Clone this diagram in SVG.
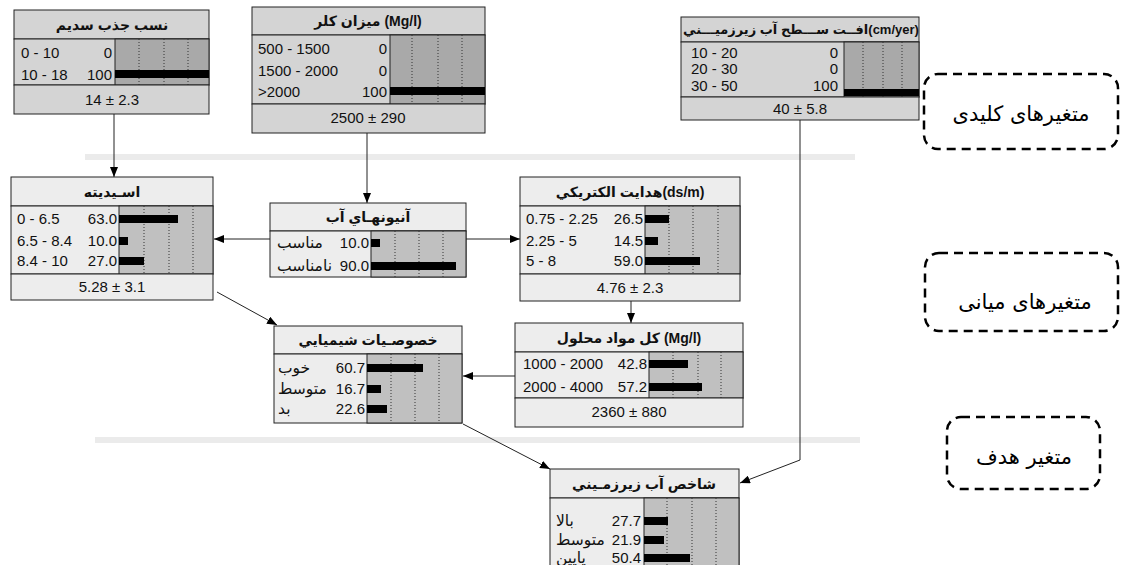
<svg xmlns="http://www.w3.org/2000/svg" width="1121" height="565" viewBox="0 0 1121 565">
<style>
.tk{fill:#d4d4d4;stroke:#222;stroke-width:1}
.tn{fill:#ededed;stroke:#222;stroke-width:1}
.bk{fill:#a9a9a9;stroke:#222;stroke-width:1}
.bn{fill:#c0c0c0;stroke:#222;stroke-width:1}
.dot{stroke:#333;stroke-width:1;stroke-dasharray:1 2}
.bar{fill:#000}
text{font-family:"Liberation Sans","DejaVu Sans",sans-serif;font-size:15px;fill:#111}
.ti{font-weight:bold;text-anchor:middle;font-size:14px}
.c{text-anchor:middle}
.e{text-anchor:end}
.ar{font-size:15.5px}
.lbl{font-family:"DejaVu Sans",sans-serif;font-size:21px;text-anchor:middle;fill:#000}
.db{fill:none;stroke:#000;stroke-width:2.5;stroke-dasharray:9 6}
.sep{stroke:#ebebeb;stroke-width:6}
.ln{stroke:#222;stroke-width:1;fill:none}
</style>
<defs>
<marker id="ah" viewBox="0 0 10 8" refX="10" refY="4" markerWidth="10" markerHeight="8" markerUnits="userSpaceOnUse" orient="auto">
<path d="M0,0 L10,4 L0,8 z" fill="#000"/>
</marker>
</defs>

<line class="sep" x1="85" y1="157" x2="855" y2="157"/>
<line class="sep" x1="95" y1="440" x2="860" y2="440"/>

<g id="connectors">
<line class="ln" x1="114" y1="114" x2="114" y2="177" marker-end="url(#ah)"/>
<line class="ln" x1="367" y1="133" x2="367" y2="203" marker-end="url(#ah)"/>
<line class="ln" x1="270" y1="239" x2="214" y2="239" marker-end="url(#ah)"/>
<line class="ln" x1="466" y1="239" x2="520" y2="239" marker-end="url(#ah)"/>
<line class="ln" x1="631" y1="301" x2="631" y2="323" marker-end="url(#ah)"/>
<line class="ln" x1="217" y1="292" x2="277" y2="325" marker-end="url(#ah)"/>
<line class="ln" x1="515" y1="376" x2="463" y2="376" marker-end="url(#ah)"/>
<line class="ln" x1="463" y1="424" x2="550" y2="469" marker-end="url(#ah)"/>
<polyline class="ln" points="800,120 800,460 740,483" marker-end="url(#ah)"/>
</g>

<g id="n-sodium">
<rect class="tk" x="14" y="10" width="195" height="29"/>
<rect class="tk" x="14" y="39" width="195" height="46"/>
<rect class="bk" x="115" y="39" width="94" height="46"/>
<line class="dot" x1="139" y1="39" x2="139" y2="85"/>
<line class="dot" x1="164" y1="39" x2="164" y2="85"/>
<line class="dot" x1="188" y1="39" x2="188" y2="85"/>
<rect class="bar" x="115" y="70" width="94" height="8"/>
<rect class="tk" x="14" y="85" width="195" height="29"/>
<text class="ti" x="112" y="30">نسب جذب سديم</text>
<text x="21" y="58">0 - 10</text><text class="e" x="112" y="58">0</text>
<text x="21" y="80">10 - 18</text><text class="e" x="112" y="80">100</text>
<text class="c" x="112" y="105">14 ± 2.3</text>
</g>

<g id="n-chloride">
<rect class="tk" x="252" y="7" width="233" height="28"/>
<rect class="tk" x="252" y="35" width="233" height="69"/>
<rect class="bk" x="390" y="35" width="95" height="69"/>
<line class="dot" x1="412" y1="35" x2="412" y2="104"/>
<line class="dot" x1="438" y1="35" x2="438" y2="104"/>
<line class="dot" x1="462" y1="35" x2="462" y2="104"/>
<rect class="bar" x="390" y="87" width="95" height="8"/>
<rect class="tk" x="252" y="104" width="233" height="29"/>
<text class="ti" x="368" y="26">ميزان كلر (Mg/l)</text>
<text x="258" y="54">500 - 1500</text><text class="e" x="387" y="54">0</text>
<text x="258" y="76">1500 - 2000</text><text class="e" x="387" y="76">0</text>
<text x="258" y="97">&gt;2000</text><text class="e" x="387" y="97">100</text>
<text class="c" x="368" y="123">2500 ± 290</text>
</g>

<g id="n-drop">
<rect class="tk" x="681" y="17" width="238" height="25"/>
<rect class="tk" x="681" y="42" width="238" height="55"/>
<rect class="bk" x="844" y="42" width="75" height="55"/>
<line class="dot" x1="863" y1="42" x2="863" y2="97"/>
<line class="dot" x1="883" y1="42" x2="883" y2="97"/>
<line class="dot" x1="902" y1="42" x2="902" y2="97"/>
<rect class="bar" x="844" y="89" width="75" height="7"/>
<rect class="tk" x="681" y="97" width="238" height="23"/>
<text class="ti" x="801" y="34" style="font-size:13px">افــت ســـطح آب زيرزميـــني(cm/yer)</text>
<text x="691" y="58">10 - 20</text><text class="e" x="838" y="58">0</text>
<text x="691" y="74">20 - 30</text><text class="e" x="838" y="74">0</text>
<text x="691" y="91">30 - 50</text><text class="e" x="838" y="91">100</text>
<text class="c" x="800" y="114">40 ± 5.8</text>
</g>

<g id="n-acidity">
<rect class="tn" x="11" y="177" width="202" height="29"/>
<rect class="tn" x="11" y="206" width="202" height="68"/>
<rect class="bn" x="119" y="206" width="94" height="68"/>
<line class="dot" x1="144" y1="206" x2="144" y2="274"/>
<line class="dot" x1="169" y1="206" x2="169" y2="274"/>
<line class="dot" x1="193" y1="206" x2="193" y2="274"/>
<rect class="bar" x="119" y="215" width="59" height="8"/>
<rect class="bar" x="119" y="237" width="9" height="8"/>
<rect class="bar" x="119" y="257" width="25" height="8"/>
<rect class="tn" x="11" y="274" width="202" height="26"/>
<text class="ti" x="112" y="197">اسـيديته</text>
<text x="17" y="224">0 - 6.5</text><text class="e" x="117" y="224">63.0</text>
<text x="17" y="246">6.5 - 8.4</text><text class="e" x="117" y="246">10.0</text>
<text x="17" y="266">8.4 - 10</text><text class="e" x="117" y="266">27.0</text>
<text class="c" x="112" y="292">5.28 ± 3.1</text>
</g>

<g id="n-anion">
<rect class="tn" x="270" y="203" width="196" height="28"/>
<rect class="tn" x="270" y="231" width="196" height="46"/>
<rect class="bn" x="371" y="231" width="95" height="46"/>
<line class="dot" x1="395" y1="231" x2="395" y2="277"/>
<line class="dot" x1="419" y1="231" x2="419" y2="277"/>
<line class="dot" x1="443" y1="231" x2="443" y2="277"/>
<rect class="bar" x="371" y="239" width="9" height="8"/>
<rect class="bar" x="371" y="262" width="85" height="8"/>
<text class="ti" x="368" y="222">آنيونهـاي آب</text>
<text class="ar" x="277" y="248">مناسب</text><text class="e" x="369" y="248">10.0</text>
<text class="ar" x="277" y="271">نامناسب</text><text class="e" x="369" y="271">90.0</text>
</g>

<g id="n-ec">
<rect class="tn" x="520" y="177" width="220" height="29"/>
<rect class="tn" x="520" y="206" width="220" height="68"/>
<rect class="bn" x="645" y="206" width="95" height="68"/>
<line class="dot" x1="669" y1="206" x2="669" y2="274"/>
<line class="dot" x1="693" y1="206" x2="693" y2="274"/>
<line class="dot" x1="718" y1="206" x2="718" y2="274"/>
<rect class="bar" x="645" y="215" width="24" height="8"/>
<rect class="bar" x="645" y="237" width="13" height="8"/>
<rect class="bar" x="645" y="257" width="55" height="8"/>
<rect class="tn" x="520" y="274" width="220" height="27"/>
<text class="ti" x="630" y="197">هدايت الكتريكي(ds/m)</text>
<text x="526" y="224">0.75 - 2.25</text><text class="e" x="643" y="224">26.5</text>
<text x="526" y="246">2.25 - 5</text><text class="e" x="643" y="246">14.5</text>
<text x="526" y="266">5 - 8</text><text class="e" x="643" y="266">59.0</text>
<text class="c" x="630" y="293">4.76 ± 2.3</text>
</g>

<g id="n-chem">
<rect class="tn" x="274" y="326" width="188" height="28"/>
<rect class="tn" x="274" y="354" width="188" height="69"/>
<rect class="bn" x="367" y="354" width="95" height="69"/>
<line class="dot" x1="391" y1="354" x2="391" y2="423"/>
<line class="dot" x1="415" y1="354" x2="415" y2="423"/>
<line class="dot" x1="439" y1="354" x2="439" y2="423"/>
<rect class="bar" x="367" y="364" width="56" height="8"/>
<rect class="bar" x="367" y="385" width="14" height="8"/>
<rect class="bar" x="367" y="405" width="20" height="8"/>
<text class="ti" x="368" y="345">خصوصـيات شيميايي</text>
<text class="ar" x="278" y="373">خوب</text><text class="e" x="365" y="373">60.7</text>
<text class="ar" x="278" y="394">متوسط</text><text class="e" x="365" y="394">16.7</text>
<text class="ar" x="278" y="414">بد</text><text class="e" x="365" y="414">22.6</text>
</g>

<g id="n-tds">
<rect class="tn" x="515" y="323" width="228" height="29"/>
<rect class="tn" x="515" y="352" width="228" height="46"/>
<rect class="bn" x="649" y="352" width="94" height="46"/>
<line class="dot" x1="673" y1="352" x2="673" y2="398"/>
<line class="dot" x1="698" y1="352" x2="698" y2="398"/>
<line class="dot" x1="721" y1="352" x2="721" y2="398"/>
<rect class="bar" x="649" y="360" width="39" height="8"/>
<rect class="bar" x="649" y="383" width="53" height="8"/>
<rect class="tn" x="515" y="398" width="228" height="29"/>
<text class="ti" x="629" y="343">كل مواد محلول (Mg/l)</text>
<text x="523" y="369">1000 - 2000</text><text class="e" x="647" y="369">42.8</text>
<text x="523" y="392">2000 - 4000</text><text class="e" x="647" y="392">57.2</text>
<text class="c" x="629" y="417">2360 ± 880</text>
</g>

<g id="n-target">
<rect class="tn" x="550" y="469" width="189" height="29"/>
<rect class="tn" x="550" y="498" width="189" height="80"/>
<rect class="bn" x="644" y="498" width="95" height="80"/>
<line class="dot" x1="667" y1="498" x2="667" y2="578"/>
<line class="dot" x1="692" y1="498" x2="692" y2="578"/>
<line class="dot" x1="716" y1="498" x2="716" y2="578"/>
<rect class="bar" x="644" y="517" width="24" height="8"/>
<rect class="bar" x="644" y="536" width="20" height="8"/>
<rect class="bar" x="644" y="554" width="46" height="8"/>
<text class="ti" x="644" y="489">شاخص آب زيرزمـيني</text>
<text class="ar" x="556" y="526">بالا</text><text class="e" x="641" y="526">27.7</text>
<text class="ar" x="556" y="545">متوسط</text><text class="e" x="641" y="545">21.9</text>
<text class="ar" x="556" y="563">پايين</text><text class="e" x="641" y="563">50.4</text>
</g>

<g id="legend-key">
<rect class="db" x="924" y="74" width="194" height="75" rx="14"/>
<text class="lbl" x="1021" y="121">متغیرهای کلیدی</text>
</g>
<g id="legend-mid">
<rect class="db" x="925" y="253" width="193" height="78" rx="14"/>
<text class="lbl" x="1025" y="309">متغیرهای میانی</text>
</g>
<g id="legend-target">
<rect class="db" x="947" y="417" width="153" height="72" rx="14"/>
<text class="lbl" x="1024" y="464">متغیر هدف</text>
</g>
</svg>
